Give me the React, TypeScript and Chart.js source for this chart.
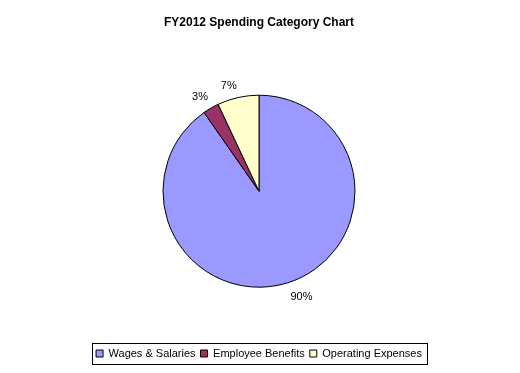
import React, { useEffect, useRef } from "react";
import { Chart, registerables } from "chart.js";

Chart.register(...registerables);

const TITLE = "FY2012 Spending Category Chart";
const categories = ["Wages & Salaries", "Employee Benefits", "Operating Expenses"];
const values = [90.3, 2.7, 7.0];
const colors = ["#9999FF", "#993366", "#FFFFCC"];

const FONT = "'Liberation Sans', Arial, sans-serif";

const sliceLabels = {
  id: "sliceLabels",
  afterDatasetsDraw(chart: any) {
    const ctx = chart.ctx;
    const meta = chart.getDatasetMeta(0);
    const data = chart.data.datasets[0].data as number[];
    const total = data.reduce((a, b) => a + b, 0);
    ctx.save();
    ctx.font = `11px ${FONT}`;
    ctx.fillStyle = "#000";
    meta.data.forEach((arc: any, i: number) => {
      const mid = (arc.startAngle + arc.endAngle) / 2;
      const dx = Math.cos(mid);
      const dy = Math.sin(mid);
      const r = arc.outerRadius + 6 + (dy > 0 ? 3 : 0);
      const x = arc.x + dx * r;
      const y = arc.y + dy * r;
      ctx.textAlign = dx >= 0 ? "left" : "right";
      ctx.textBaseline = dy >= 0 ? "top" : "bottom";
      const pct = Math.round((data[i] / total) * 100) + "%";
      ctx.fillText(pct, x, y);
    });
    ctx.restore();
  },
};

const legendBorder = {
  id: "legendBorder",
  afterDraw(chart: any) {
    const lg = chart.legend;
    if (!lg || !lg.legendHitBoxes || !lg.legendHitBoxes.length) return;
    const hb = lg.legendHitBoxes;
    let left = Infinity;
    let right = -Infinity;
    let cy = 0;
    hb.forEach((h: any) => {
      left = Math.min(left, h.left);
      right = Math.max(right, h.left + h.width);
      cy = h.top + h.height / 2;
    });
    const ctx = chart.ctx;
    ctx.save();
    ctx.strokeStyle = "#000";
    ctx.lineWidth = 1;
    const x0 = Math.round(left - 4) + 0.5;
    const x1 = Math.round(right + 5) + 0.5;
    const y0 = Math.round(cy - 11) + 0.5;
    const y1 = Math.round(cy + 10) + 0.5;
    ctx.strokeRect(x0, y0, x1 - x0, y1 - y0);
    ctx.restore();
  },
};

export default function App() {
  const ref = useRef<HTMLCanvasElement | null>(null);
  useEffect(() => {
    if (!ref.current) return;
    const chart = new Chart(ref.current, {
      type: "pie",
      data: {
        labels: categories,
        datasets: [
          {
            data: values,
            backgroundColor: colors,
            borderColor: "#000",
            borderWidth: 1,
            radius: 96,
            offset: 0,
            hoverOffset: 0,
          } as any,
        ],
      },
      options: {
        responsive: false,
        animation: false,
        layout: { padding: { top: 0, bottom: 4, left: 0, right: 2 } },
        plugins: {
          title: {
            display: true,
            text: TITLE,
            color: "#000",
            font: { family: FONT, size: 12, weight: "bold" },
            padding: { top: 15, bottom: 10 },
          },
          legend: {
            display: true,
            position: "bottom",
            labels: {
              boxWidth: 7,
              boxHeight: 7,
              padding: 5,
              color: "#000",
              font: { family: FONT, size: 11 },
            },
          },
          tooltip: { enabled: false },
        },
      },
      plugins: [sliceLabels, legendBorder],
    });
    return () => chart.destroy();
  }, []);
  return (
    <div style={{ position: "absolute", left: 0, top: 0, width: 520, height: 373, background: "#fff" }}>
      <canvas ref={ref} width={520} height={373} />
    </div>
  );
}
